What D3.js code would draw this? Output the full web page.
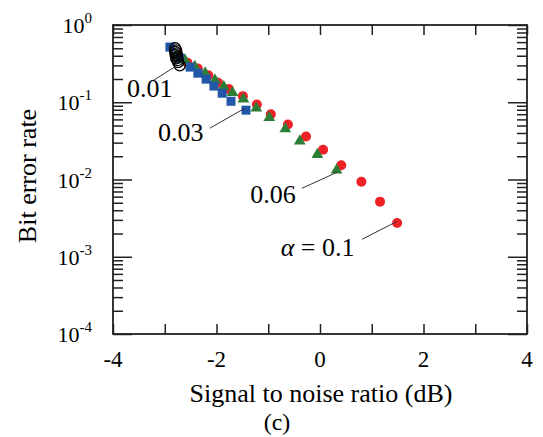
<!DOCTYPE html>
<html><head><meta charset="utf-8">
<script src="https://cdn.jsdelivr.net/npm/d3@7"></script>
<style>body{margin:0;background:#fff} svg text{font-family:"Liberation Serif","Times New Roman",Times,"DejaVu Serif","Noto Serif",FreeSerif,serif !important;}</style>
</head><body><svg id="c" width="543" height="437"></svg>
<script>
// ---- data ----
const xTicks = [-4,-3,-2,-1,0,1,2,3,4];
const xTickLabels = ["-4","","-2","","0","","2","","4"];
const yMajor = [1e-4,1e-3,1e-2,1e-1,1];
const yTickExp = ["-4","-3","-2","-1","0"];

const a001x = [-2.80,-2.78,-2.80,-2.77,-2.79,-2.76,-2.78,-2.75,-2.74,-2.71];
const a001y = [0.50,0.47,0.45,0.43,0.41,0.39,0.37,0.35,0.33,0.30];

const a003x = [-2.90,-2.71,-2.51,-2.36,-2.20,-2.05,-1.89,-1.72,-1.43];
const a003y = [0.518,0.373,0.285,0.238,0.199,0.162,0.131,0.103,0.079];

const a006x = [-2.78,-2.61,-2.42,-2.22,-2.03,-1.86,-1.69,-1.48,-1.23,-0.98,-0.67,-0.39,-0.05,0.32];
const a006y = [0.408,0.352,0.290,0.238,0.194,0.159,0.133,0.110,0.0838,0.0634,0.0451,0.0315,0.0210,0.0132];

const a01x = [-2.74,-2.56,-2.36,-2.16,-1.97,-1.76,-1.49,-1.22,-0.95,-0.62,-0.27,0.06,0.41,0.80,1.16,1.49];
const a01y = [0.408,0.324,0.274,0.223,0.179,0.148,0.120,0.0936,0.0701,0.0515,0.0360,0.0243,0.0153,0.00934,0.00517,0.00273];

const annLabels = ["0.01","0.03","0.06","= 0.1"];
const annTextX = [-3.73,-3.13,-1.35,-0.76];
const annTextY = [0.1164,0.0313,0.00491,0.00101];
const annLineX1 = [-3.21,-2.13,-0.35,0.81];
const annLineY1 = [0.1935,0.0461,0.00769,0.00168];
const annLineX2 = [-2.78,-1.45,0.33,1.49];
const annLineY2 = [0.294,0.0839,0.0124,0.00287];

// ---- chart ----
const svg = d3.select("#c");
svg.append("rect").attr("width",543).attr("height",437).attr("fill","#fff");
const L=113,R=527,T=25,B=334;
const x = d3.scaleLinear().domain([-4,4]).range([L,R]);
const y = d3.scaleLog().domain([1e-4,1]).range([B,T]);
const axisCol = "#222";

const g = svg.append("g");
const minor = [];
for (let e=-4;e<0;e++) for (let m=2;m<=9;m++) minor.push(m*Math.pow(10,e));

g.append("g").attr("transform",`translate(${L},0)`)
  .call(d3.axisRight(y).tickValues(minor).tickSize(10).tickFormat(""))
  .call(s=>s.select(".domain").remove());
g.append("g").attr("transform",`translate(${R},0)`)
  .call(d3.axisLeft(y).tickValues(minor).tickSize(10).tickFormat(""))
  .call(s=>s.select(".domain").remove());
g.append("g").attr("transform",`translate(${L},0)`)
  .call(d3.axisRight(y).tickValues(yMajor).tickSize(19).tickFormat(""))
  .call(s=>s.select(".domain").remove());
g.append("g").attr("transform",`translate(${R},0)`)
  .call(d3.axisLeft(y).tickValues(yMajor).tickSize(19).tickFormat(""))
  .call(s=>s.select(".domain").remove());
g.append("g").attr("transform",`translate(0,${B})`)
  .call(d3.axisTop(x).tickValues(xTicks).tickSize(10).tickFormat(""))
  .call(s=>s.select(".domain").remove());
g.append("g").attr("transform",`translate(0,${T})`)
  .call(d3.axisBottom(x).tickValues(xTicks).tickSize(10).tickFormat(""))
  .call(s=>s.select(".domain").remove());
g.selectAll(".tick line").attr("stroke",axisCol).attr("stroke-width",1.5);

svg.append("rect").attr("x",L).attr("y",T).attr("width",R-L).attr("height",B-T)
  .attr("fill","none").attr("stroke",axisCol).attr("stroke-width",1.8);

// x tick labels
svg.append("g").selectAll("text").data(xTicks).join("text")
  .attr("x",d=>x(d)).attr("y",B+33).attr("text-anchor","middle")
  .attr("font-size",23).text((d,i)=>xTickLabels[i]);

// y tick labels
const yl = svg.append("g").selectAll("text").data(yMajor).join("text")
  .attr("x",92).attr("y",d=>y(d)+8).attr("text-anchor","end").attr("font-size",22);
yl.append("tspan").text("10");
yl.append("tspan").attr("dy",-10).attr("font-size",15).text((d,i)=>yTickExp[i]);

// axis titles
svg.append("text").attr("x",321).attr("y",402).attr("text-anchor","middle")
  .attr("font-size",26).text("Signal to noise ratio (dB)");
svg.append("text").attr("transform","translate(36,176) rotate(-90)").attr("text-anchor","middle")
  .attr("font-size",26).text("Bit error rate");
svg.append("text").attr("x",277).attr("y",430).attr("text-anchor","middle")
  .attr("font-size",24).text("(c)");

// series
const toPts = (xs,ys)=>xs.map((v,i)=>[v,ys[i]]);
const red = "#ec2227", green = "#2e7d36", blue = "#2257a8";

svg.append("g").selectAll("circle").data(toPts(a01x,a01y)).join("circle")
  .attr("cx",d=>x(d[0])).attr("cy",d=>y(d[1])).attr("r",5).attr("fill",red);

const tri = d3.symbol().type(d3.symbolTriangle).size(60);
svg.append("g").selectAll("path").data(toPts(a006x,a006y)).join("path")
  .attr("d",tri).attr("transform",d=>`translate(${x(d[0])},${y(d[1])})`).attr("fill",green);

svg.append("g").selectAll("rect").data(toPts(a003x,a003y)).join("rect")
  .attr("x",d=>x(d[0])-4.5).attr("y",d=>y(d[1])-4.5).attr("width",9).attr("height",9).attr("fill",blue);

svg.append("g").selectAll("circle").data(toPts(a001x,a001y)).join("circle")
  .attr("cx",d=>x(d[0])).attr("cy",d=>y(d[1])).attr("r",5.5)
  .attr("fill","none").attr("stroke","#000").attr("stroke-width",1.3);

// annotations
const ann = svg.append("g");
annLabels.forEach((lab,i)=>{
  ann.append("line").attr("x1",x(annLineX1[i])).attr("y1",y(annLineY1[i]))
    .attr("x2",x(annLineX2[i])).attr("y2",y(annLineY2[i]))
    .attr("stroke","#333").attr("stroke-width",1);
  const t = ann.append("text").attr("x",x(annTextX[i])).attr("y",y(annTextY[i]))
    .attr("font-size",26).attr("text-anchor","start");
  if (i===3) {
    t.append("tspan").attr("font-style","italic").text("\u03b1");
    t.append("tspan").text(" " + lab);
  } else t.text(lab);
});
</script></body></html>
